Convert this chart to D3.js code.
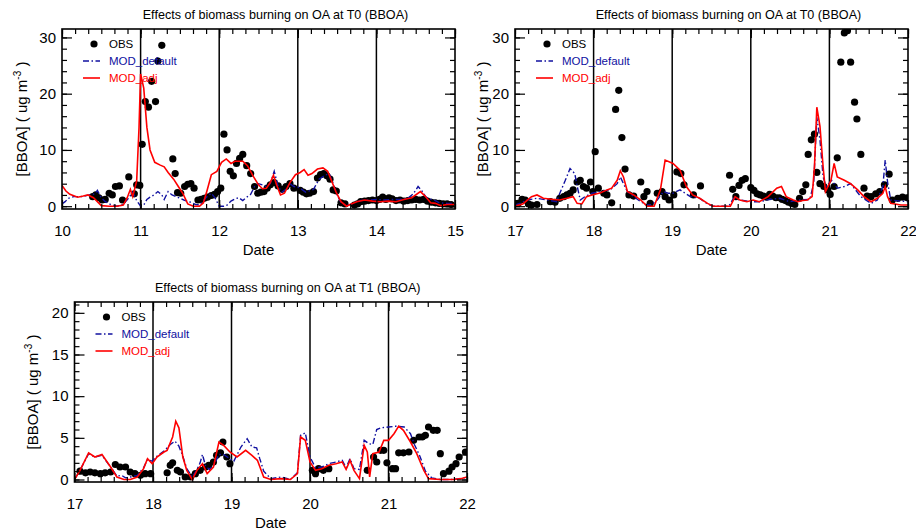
<!DOCTYPE html>
<html>
<head>
<meta charset="utf-8">
<script src="https://cdn.jsdelivr.net/npm/d3@7"></script>
<style>
  body { margin: 0; background: #fff; }
  text { font-family: "Liberation Sans", Arial, Helvetica, sans-serif; }
</style>
</head>
<body>
<div id="chart"></div>
<script>
// Chart size
const width = 916;
const height = 531;

// Style constants
const COLORS = { obs: "#000", def: "#1010a0", adj: "#ff0000", axis: "#000" };

// ---- Data: [day, BBOA ug m-3] ----
// Panel 1: T0, days 10-15
const p1Obs = [[10.39,1.7],[10.43,2.0],[10.47,1.5],[10.51,1.1],[10.55,1.2],[10.6,2.3],[10.64,2.0],[10.68,3.5],[10.73,3.6],[10.77,1.1],[10.85,5.2],[10.92,2.2],[10.95,3.8],[10.99,3.7],[11.02,11],[11.06,18.6],[11.1,17.6],[11.14,22.2],[11.19,18.6],[11.22,25.8],[11.27,28.6],[11.41,8.4],[11.44,5.8],[11.47,2.4],[11.51,2.3],[11.56,3.5],[11.6,3.9],[11.64,4.0],[11.68,3.2],[11.73,1.1],[11.77,1.2],[11.81,1.4],[11.85,1.6],[11.9,1.9],[11.94,2.1],[11.98,2.6],[12.02,3.2],[12.06,12.8],[12.1,10.0],[12.14,6.2],[12.18,5.4],[12.22,7.6],[12.26,8.5],[12.3,9.2],[12.35,7.2],[12.4,5.8],[12.45,3.5],[12.49,2.3],[12.53,2.5],[12.57,2.6],[12.61,3.2],[12.65,3.8],[12.7,4.2],[12.75,3.6],[12.8,3.0],[12.85,3.5],[12.9,4.0],[12.95,3.2],[13.03,2.8],[13.07,2.5],[13.11,2.2],[13.15,2.3],[13.2,2.6],[13.25,5.0],[13.29,5.6],[13.33,5.8],[13.37,5.4],[13.41,4.8],[13.45,2.9],[13.49,2.7],[13.55,0.6],[13.6,0.4],[13.72,0.2],[13.76,0.4],[13.8,0.8],[13.85,0.9],[13.9,1.0],[13.95,1.1],[14.0,1.0],[14.04,1.2],[14.08,1.6],[14.12,1.2],[14.16,1.5],[14.2,1.3],[14.25,1.0],[14.3,1.1],[14.35,0.9],[14.4,1.0],[14.45,1.1],[14.5,1.2],[14.55,1.1],[14.6,1.2],[14.65,0.9],[14.7,0.7],[14.75,0.6],[14.8,0.5],[14.85,0.4],[14.9,0.4],[14.95,0.3]];
const p1Def = [[10.0,0.4],[10.04,0.8],[10.08,1.4],[10.15,1.7],[10.25,1.7],[10.35,2.0],[10.42,2.2],[10.45,2.8],[10.5,1.5],[10.55,0.8],[10.62,0.3],[10.7,0.0],[10.78,0.3],[10.85,1.5],[10.9,2.5],[10.95,1.0],[11.0,0.0],[11.04,0.2],[11.08,1.2],[11.12,1.6],[11.17,2.0],[11.22,2.6],[11.27,2.0],[11.3,1.2],[11.35,2.6],[11.4,2.0],[11.47,1.6],[11.55,1.1],[11.62,0.8],[11.7,0.3],[11.75,0.2],[11.8,1.0],[11.85,1.8],[11.9,2.3],[11.95,1.4],[12.0,0.0],[12.06,0.0],[12.1,0.2],[12.15,0.9],[12.2,1.3],[12.25,1.5],[12.3,1.0],[12.35,1.6],[12.4,2.1],[12.45,3.5],[12.5,4.0],[12.55,3.8],[12.6,3.5],[12.65,4.0],[12.7,6.2],[12.75,3.5],[12.8,2.5],[12.85,3.0],[12.9,4.0],[12.95,3.5],[13.0,3.4],[13.05,3.0],[13.1,2.5],[13.2,3.0],[13.27,4.8],[13.35,5.5],[13.4,5.8],[13.45,4.0],[13.5,2.0],[13.55,0.6],[13.62,0.1],[13.7,0.5],[13.8,1.0],[13.9,1.1],[14.0,1.2],[14.1,1.1],[14.2,1.2],[14.3,1.2],[14.4,1.4],[14.47,2.2],[14.53,3.5],[14.58,2.7],[14.63,1.6],[14.7,1.2],[14.75,1.0],[14.8,0.6],[14.9,0.5],[15.0,0.5]];
const p1Adj = [[10.0,3.7],[10.05,2.7],[10.1,2.1],[10.2,1.6],[10.27,1.8],[10.33,2.0],[10.4,1.5],[10.45,0.8],[10.5,0.1],[10.6,0.0],[10.7,0.0],[10.78,0.2],[10.83,1.5],[10.87,3.0],[10.9,1.7],[10.95,4.5],[10.98,14],[11.0,23.5],[11.04,21.0],[11.08,14.0],[11.12,10.0],[11.18,7.8],[11.25,7.3],[11.3,7.0],[11.35,6.0],[11.42,4.8],[11.48,3.5],[11.54,2.2],[11.6,0.4],[11.67,0.0],[11.75,0.0],[11.8,0.6],[11.85,3.0],[11.9,5.6],[11.97,6.2],[12.03,7.8],[12.09,8.4],[12.15,7.6],[12.2,8.0],[12.3,8.0],[12.36,7.2],[12.43,5.4],[12.5,3.8],[12.55,3.1],[12.6,3.2],[12.65,4.2],[12.69,5.5],[12.73,3.8],[12.78,2.0],[12.83,2.3],[12.9,4.2],[12.97,5.6],[13.03,6.0],[13.08,6.5],[13.13,5.5],[13.18,5.8],[13.25,6.6],[13.32,6.8],[13.38,6.2],[13.43,4.5],[13.49,2.4],[13.55,0.8],[13.62,0.0],[13.68,0.4],[13.75,0.8],[13.85,1.1],[13.95,0.9],[14.05,0.8],[14.15,0.9],[14.25,0.8],[14.35,1.2],[14.45,1.5],[14.56,2.6],[14.62,1.8],[14.69,0.6],[14.75,0.5],[14.82,0.1],[14.9,0.3],[15.0,0.3]];

// Panel 2: T0, days 17-22
const p2Obs = [[17.04,0.5],[17.09,1.2],[17.13,1.1],[17.17,0.4],[17.21,0.2],[17.28,0.3],[17.45,0.8],[17.51,0.7],[17.57,1.4],[17.62,1.7],[17.66,2.0],[17.7,2.3],[17.74,2.9],[17.79,4.3],[17.83,4.6],[17.87,3.5],[17.91,3.2],[17.96,4.3],[17.99,2.6],[18.02,9.7],[18.06,3.2],[18.13,2.3],[18.17,2.0],[18.23,0.6],[18.28,17.2],[18.32,20.6],[18.36,12.2],[18.4,6.6],[18.45,2.0],[18.51,1.8],[18.6,4.3],[18.64,1.7],[18.68,2.6],[18.72,0.5],[18.81,2.3],[18.87,2.6],[18.91,1.7],[18.96,1.1],[19.02,2.0],[19.06,6.1],[19.11,5.8],[19.15,3.8],[19.27,2.0],[19.36,3.6],[19.73,5.5],[19.77,3.0],[19.81,1.7],[19.85,3.7],[19.89,4.6],[19.93,4.9],[20.0,3.3],[20.04,2.8],[20.08,2.2],[20.12,2.0],[20.16,1.8],[20.2,1.6],[20.24,2.1],[20.28,1.8],[20.32,1.5],[20.36,1.5],[20.4,1.2],[20.44,1.0],[20.48,0.7],[20.52,0.5],[20.56,0.3],[20.62,1.4],[20.66,2.6],[20.7,3.8],[20.73,9.2],[20.77,11.8],[20.81,12.8],[20.84,6.0],[20.88,4.0],[20.93,3.5],[20.98,2.9],[21.01,2.1],[21.06,3.5],[21.1,8.6],[21.145,25.6],[21.19,30.8],[21.23,31.2],[21.27,25.6],[21.32,18.5],[21.35,15.5],[21.4,9.2],[21.44,3.2],[21.48,1.8],[21.53,1.7],[21.59,2.2],[21.64,2.6],[21.7,3.8],[21.76,5.7],[21.8,1.1],[21.87,1.4],[21.93,1.6],[21.99,1.5]];
const p2Def = [[17.0,0.2],[17.08,0.6],[17.15,1.1],[17.28,1.4],[17.4,1.1],[17.53,0.8],[17.57,2.3],[17.64,4.6],[17.7,6.7],[17.76,5.8],[17.8,3.0],[17.83,1.1],[17.89,1.7],[17.98,2.3],[18.09,2.6],[18.21,2.9],[18.3,4.0],[18.34,5.2],[18.38,4.0],[18.43,2.6],[18.52,1.6],[18.6,0.8],[18.68,0.2],[18.74,0.3],[18.81,1.1],[18.89,2.6],[18.95,2.3],[19.01,2.3],[19.1,2.9],[19.23,1.7],[19.35,1.4],[19.45,0.4],[19.52,0.0],[19.72,0.0],[19.78,1.4],[19.86,1.1],[19.99,0.8],[20.11,0.8],[20.24,1.2],[20.37,1.4],[20.49,0.8],[20.62,1.1],[20.75,1.2],[20.8,4.0],[20.84,15.8],[20.88,11.8],[20.92,5.2],[20.96,3.5],[21.03,4.6],[21.1,3.2],[21.19,3.5],[21.27,4.0],[21.4,1.7],[21.53,0.5],[21.61,1.1],[21.68,3.5],[21.71,8.2],[21.74,4.3],[21.78,1.1],[21.9,0.9],[22.0,0.8]];
const p2Adj = [[17.0,0.0],[17.1,0.4],[17.21,1.7],[17.28,2.0],[17.36,1.4],[17.49,1.2],[17.57,1.1],[17.66,1.4],[17.74,1.7],[17.79,0.5],[17.85,0.4],[17.91,1.7],[17.98,2.0],[18.09,2.4],[18.17,2.9],[18.23,3.2],[18.3,4.6],[18.34,6.3],[18.38,5.2],[18.43,2.6],[18.51,2.0],[18.6,1.1],[18.68,0.0],[18.77,0.0],[18.85,2.9],[18.91,8.2],[19.01,7.6],[19.1,6.4],[19.18,3.5],[19.26,2.0],[19.35,1.4],[19.45,0.5],[19.52,0.0],[19.74,0.0],[19.8,1.7],[19.86,1.1],[19.95,0.8],[20.03,1.1],[20.11,0.8],[20.22,1.7],[20.33,3.2],[20.39,3.5],[20.45,1.7],[20.54,1.1],[20.6,0.8],[20.66,1.0],[20.72,1.1],[20.78,1.7],[20.81,7.0],[20.84,17.6],[20.88,14.2],[20.92,7.0],[20.95,2.6],[21.02,4.6],[21.06,7.6],[21.1,5.2],[21.19,4.6],[21.27,4.0],[21.36,2.9],[21.44,1.7],[21.53,0.8],[21.61,1.4],[21.68,2.3],[21.71,3.5],[21.74,1.7],[21.78,0.5],[21.91,0.2],[22.0,0.2]];

// Panel 3: T1, days 17-22
const p3Obs = [[17.07,1.0],[17.14,0.8],[17.2,0.9],[17.26,0.8],[17.33,0.7],[17.39,0.8],[17.46,0.9],[17.52,1.8],[17.58,1.5],[17.65,1.5],[17.71,0.9],[17.77,0.7],[17.84,0.5],[17.9,0.7],[17.97,0.7],[18.18,0.8],[18.22,1.7],[18.25,2.0],[18.31,1.1],[18.35,0.9],[18.41,0.3],[18.48,0.3],[18.54,0.7],[18.6,1.1],[18.67,1.5],[18.71,1.7],[18.77,2.1],[18.81,2.9],[18.86,3.2],[18.89,4.5],[18.94,2.7],[18.98,1.9],[20.03,1.1],[20.07,0.7],[20.11,1.3],[20.17,1.1],[20.24,1.3],[20.73,1.1],[20.81,2.7],[20.85,2.1],[20.9,3.5],[20.94,3.5],[20.98,2.0],[21.05,1.3],[21.09,1.3],[21.13,3.2],[21.19,3.2],[21.26,3.3],[21.32,4.7],[21.39,5.1],[21.43,5.1],[21.47,5.3],[21.51,6.3],[21.57,5.9],[21.62,5.9],[21.66,3.1],[21.7,0.7],[21.77,1.0],[21.81,1.5],[21.86,1.9],[21.9,2.7],[21.98,3.3]];
const p3Def = [[17.0,0.0],[17.07,1.1],[17.18,3.1],[17.26,2.7],[17.35,2.9],[17.46,1.5],[17.54,0.4],[17.6,0.5],[17.65,0.2],[17.71,0.3],[17.8,0.5],[17.88,1.4],[17.93,2.4],[17.99,2.2],[18.05,2.8],[18.14,3.4],[18.22,4.2],[18.28,4.6],[18.33,4.0],[18.38,2.8],[18.43,1.3],[18.5,0.3],[18.56,1.2],[18.6,2.0],[18.63,3.0],[18.67,1.6],[18.72,1.2],[18.78,1.8],[18.84,3.0],[18.9,3.0],[18.96,2.6],[19.03,2.2],[19.12,3.9],[19.2,4.9],[19.26,3.9],[19.32,3.8],[19.36,2.5],[19.41,1.0],[19.5,0.1],[19.63,0.3],[19.75,0.0],[19.84,0.8],[19.88,5.3],[19.94,5.6],[20.0,2.7],[20.07,1.4],[20.15,1.5],[20.24,1.9],[20.33,2.1],[20.41,2.3],[20.46,1.4],[20.51,2.5],[20.56,1.3],[20.63,1.2],[20.69,4.7],[20.75,4.3],[20.8,4.2],[20.85,6.0],[20.9,6.2],[21.0,6.3],[21.1,6.4],[21.2,6.3],[21.28,5.5],[21.33,4.2],[21.4,2.8],[21.47,1.0],[21.55,0.2],[21.66,0.0],[21.8,0.0],[21.92,0.1],[22.0,0.3]];
const p3Adj = [[17.0,0.0],[17.07,1.1],[17.18,3.2],[17.26,2.7],[17.35,3.0],[17.46,1.5],[17.54,0.3],[17.63,0.0],[17.71,0.0],[17.8,0.3],[17.88,1.3],[17.93,2.5],[17.99,1.9],[18.05,2.7],[18.14,3.3],[18.18,3.5],[18.25,5.1],[18.29,7.0],[18.33,6.2],[18.38,2.7],[18.43,1.1],[18.5,0.0],[18.56,1.1],[18.63,1.9],[18.69,0.7],[18.77,1.5],[18.84,4.5],[18.9,4.1],[18.98,3.3],[19.07,2.7],[19.18,3.5],[19.26,2.9],[19.33,2.3],[19.41,0.3],[19.5,0.0],[19.63,0.1],[19.75,0.0],[19.84,0.7],[19.88,5.1],[19.94,4.7],[20.0,2.1],[20.07,1.1],[20.15,1.3],[20.24,1.7],[20.33,1.9],[20.41,2.1],[20.46,1.2],[20.51,2.3],[20.56,1.1],[20.63,0.1],[20.69,4.1],[20.73,3.3],[20.76,0.3],[20.8,3.1],[20.88,3.3],[20.94,4.7],[21.0,4.7],[21.07,5.5],[21.13,6.4],[21.19,5.9],[21.28,4.5],[21.36,3.1],[21.45,1.1],[21.51,0.1],[21.66,0.0],[21.83,0.0],[21.92,0.1],[22.0,0.3]];

// Axis ticks
const daysA = [10, 11, 12, 13, 14, 15];
const daysB = [17, 18, 19, 20, 21, 22];
const yTicksT0 = [0, 10, 20, 30];
const yTicksT1 = [0, 5, 10, 15, 20];

const titleT0 = "Effects of biomass burning on OA at T0 (BBOA)";
const titleT1 = "Effects of biomass burning on OA at T1 (BBOA)";
const legendNames = ["OBS", "MOD_default", "MOD_adj"];

// Panel layout
const panels = [
    { left: 62, right: 455, top: 29, bottom: 209, days: daysA, yTicks: yTicksT0, yMax: 31.5, yMin: -0.5, yMinor: 2,
      title: titleT0, obs: p1Obs, def: p1Def, adj: p1Adj, ylabX: 22 },
    { left: 515, right: 908, top: 29, bottom: 209, days: daysB, yTicks: yTicksT0, yMax: 31.5, yMin: -0.5, yMinor: 2,
      title: titleT0, obs: p2Obs, def: p2Def, adj: p2Adj, ylabX: 483 },
    { left: 74.5, right: 467, top: 302, bottom: 482, days: daysB, yTicks: yTicksT1, yMax: 21.3, yMin: -0.3, yMinor: 1,
      title: titleT1, obs: p3Obs, def: p3Def, adj: p3Adj, ylabX: 33 }
];

const svg = d3.select("#chart")
    .append("svg")
    .attr("width", width)
    .attr("height", height);

panels.forEach((p, i) => drawPanel(p, i));

function drawPanel(p, i) {
    const x = d3.scaleLinear()
        .domain([p.days[0], p.days[p.days.length - 1]])
        .range([p.left, p.right]);
    const y = d3.scaleLinear()
        .domain([p.yMin, p.yMax])
        .range([p.bottom, p.top]);

    const g = svg.append("g");

    g.append("clipPath")
        .attr("id", "clip" + i)
        .append("rect")
        .attr("x", p.left)
        .attr("y", p.top)
        .attr("width", p.right - p.left)
        .attr("height", p.bottom - p.top);

    const plot = g.append("g").attr("clip-path", `url(#clip${i})`);

    // Day separator lines
    plot.selectAll("line.day")
        .data(p.days.slice(1, -1))
        .enter()
        .append("line")
        .attr("x1", d => x(d))
        .attr("x2", d => x(d))
        .attr("y1", p.top)
        .attr("y2", p.bottom)
        .attr("stroke", COLORS.axis)
        .attr("stroke-width", 1.5);

    const line = d3.line()
        .x(d => x(d[0]))
        .y(d => y(d[1]));

    // Observations
    plot.selectAll("circle.obs")
        .data(p.obs)
        .enter()
        .append("circle")
        .attr("cx", d => x(d[0]))
        .attr("cy", d => y(d[1]))
        .attr("r", 3.6)
        .attr("fill", COLORS.obs);

    // MOD_default
    plot.append("path")
        .attr("d", line(p.def))
        .attr("fill", "none")
        .attr("stroke", COLORS.def)
        .attr("stroke-width", 1.4)
        .attr("stroke-dasharray", "6,2.5,1.5,2.5");

    // MOD_adj
    plot.append("path")
        .attr("d", line(p.adj))
        .attr("fill", "none")
        .attr("stroke", COLORS.adj)
        .attr("stroke-width", 1.6);

    // Axes (ticks inward)
    const minorX = d3.range(p.days[0], p.days[p.days.length - 1] + 1e-6, 1 / 6);
    const minorY = d3.range(0, p.yMax, p.yMinor);
    const fmt = d3.format("d");

    const axes = [
        { ax: d3.axisBottom(x).tickValues(minorX).tickSize(-5), t: `translate(0,${p.bottom})` },
        { ax: d3.axisBottom(x).tickValues(p.days).tickSize(-9), t: `translate(0,${p.bottom})`, labels: "x" },
        { ax: d3.axisTop(x).tickValues(minorX).tickSize(-5), t: `translate(0,${p.top})` },
        { ax: d3.axisTop(x).tickValues(p.days).tickSize(-9), t: `translate(0,${p.top})` },
        { ax: d3.axisLeft(y).tickValues(minorY).tickSize(-5), t: `translate(${p.left},0)` },
        { ax: d3.axisLeft(y).tickValues(p.yTicks).tickSize(-10), t: `translate(${p.left},0)`, labels: "y" },
        { ax: d3.axisRight(y).tickValues(minorY).tickSize(-5), t: `translate(${p.right},0)` },
        { ax: d3.axisRight(y).tickValues(p.yTicks).tickSize(-10), t: `translate(${p.right},0)` }
    ];

    axes.forEach(a => {
        a.ax.tickFormat(a.labels ? fmt : "");
        const ag = g.append("g")
            .attr("transform", a.t)
            .call(a.ax);
        ag.select(".domain").remove();
        ag.selectAll(".tick line")
            .attr("stroke", COLORS.axis)
            .attr("stroke-width", 1.2);
        ag.selectAll(".tick text")
            .attr("fill", COLORS.axis)
            .style("font-size", "15px");
        if (a.labels === "x") ag.selectAll(".tick text").attr("y", 16);
        if (a.labels === "y") ag.selectAll(".tick text").attr("x", -6);
    });

    // Frame
    g.append("rect")
        .attr("x", p.left)
        .attr("y", p.top)
        .attr("width", p.right - p.left)
        .attr("height", p.bottom - p.top)
        .attr("fill", "none")
        .attr("stroke", COLORS.axis)
        .attr("stroke-width", 1.6);

    // Title
    g.append("text")
        .attr("x", (p.left + p.right) / 2 + 17)
        .attr("y", p.top - 10)
        .attr("text-anchor", "middle")
        .style("font-size", "12.6px")
        .text(p.title);

    // X label
    g.append("text")
        .attr("x", (p.left + p.right) / 2)
        .attr("y", p.bottom + 46)
        .attr("text-anchor", "middle")
        .style("font-size", "15px")
        .text("Date");

    // Y label
    const yl = g.append("text")
        .attr("transform", `translate(${p.ylabX + 5},${(p.top + p.bottom) / 2}) rotate(-90)`)
        .attr("text-anchor", "middle")
        .style("font-size", "15px");
    yl.append("tspan").text("[BBOA] ( ug m");
    yl.append("tspan").attr("dy", -6).style("font-size", "10px").text("-3");
    yl.append("tspan").attr("dy", 6).text(" )");

    // Legend
    const lx = p.left, ly = p.top;
    g.append("circle")
        .attr("cx", lx + 32).attr("cy", ly + 15).attr("r", 3.6)
        .attr("fill", COLORS.obs);
    g.append("line")
        .attr("x1", lx + 21).attr("x2", lx + 38)
        .attr("y1", ly + 32).attr("y2", ly + 32)
        .attr("stroke", COLORS.def).attr("stroke-width", 1.4)
        .attr("stroke-dasharray", "6,2.5,1.5,2.5");
    g.append("line")
        .attr("x1", lx + 21).attr("x2", lx + 38)
        .attr("y1", ly + 49).attr("y2", ly + 49)
        .attr("stroke", COLORS.adj).attr("stroke-width", 1.6);

    const legendColors = [COLORS.obs, COLORS.def, COLORS.adj];
    g.selectAll("text.leg")
        .data(legendNames)
        .enter()
        .append("text")
        .attr("x", lx + 47)
        .attr("y", (d, k) => ly + 19 + k * 17)
        .attr("fill", (d, k) => legendColors[k])
        .style("font-size", "11.5px")
        .text(d => d);
}
</script>
</body>
</html>
